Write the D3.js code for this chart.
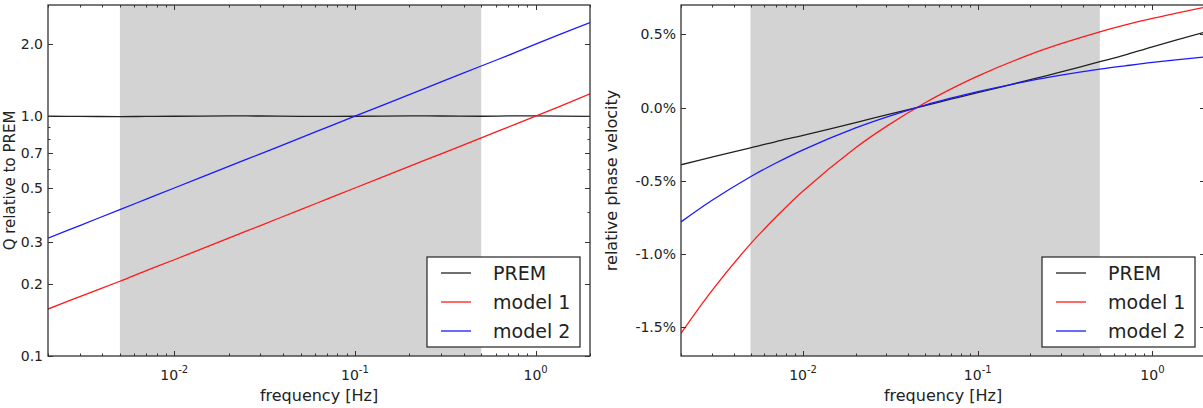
<!DOCTYPE html>
<html lang="en">
<head>
  <meta charset="UTF-8">
  <title>Q and phase velocity vs frequency</title>
  <style>
    html, body { margin: 0; padding: 0; background: #fff; }
    svg { display: block; font-family: "DejaVu Sans", sans-serif; }
  </style>
</head>
<body>
  <svg id="svg" width="1203" height="408"></svg>

  <script src="https://cdn.jsdelivr.net/npm/d3@7"></script>
  <script>
    const freq = [0.002, 0.003, 0.005, 0.007, 0.01, 0.02, 0.03, 0.05, 0.07, 0.1, 0.2, 0.3, 0.5, 0.7, 1, 2]

    // Q relative to PREM
    const qPrem   = [1.0, 0.998, 0.997, 0.998, 1.0, 1.003, 1.002, 0.999, 0.998, 1.0, 1.003, 1.002, 1.0, 1.003, 1.004, 0.998]
    const qModel1 = [0.157, 0.177, 0.205, 0.227, 0.252, 0.310, 0.350, 0.408, 0.451, 0.502, 0.618, 0.697, 0.812, 0.899, 1.0, 1.24]
    const qModel2 = [0.310, 0.350, 0.408, 0.451, 0.502, 0.618, 0.697, 0.812, 0.899, 1.0, 1.23, 1.39, 1.62, 1.79, 2.0, 2.46]

    // relative phase velocity (%)
    const vPrem   = [-0.39, -0.338, -0.275, -0.232, -0.19, -0.102, -0.05, 0.014, 0.057, 0.102, 0.19, 0.243, 0.313, 0.36, 0.415, 0.515]
    const vModel1 = [-1.54, -1.25, -0.93, -0.747, -0.569, -0.274, -0.128, 0.033, 0.126, 0.215, 0.363, 0.436, 0.517, 0.564, 0.608, 0.685]
    const vModel2 = [-0.78, -0.634, -0.472, -0.378, -0.288, -0.139, -0.065, 0.017, 0.064, 0.109, 0.184, 0.221, 0.262, 0.285, 0.308, 0.346]

    const seriesNames = ['PREM', 'model 1', 'model 2']
    const seriesColors = ['#222', '#ff1a1a', '#1a1aff']

    const bandRange = [0.005, 0.5]
    const freqTicks = [0.01, 0.1, 1]
    const freqExp = ['-2', '-1', '0']
    const qTicks = [0.1, 0.2, 0.3, 0.5, 0.7, 1.0, 2.0]
    const qMinorTicks = [0.4, 0.6, 0.8, 0.9]
    const vTicks = [-1.5, -1.0, -0.5, 0.0, 0.5]

    const svg = d3.select('#svg')
    const yTop = 5
    const yBottom = 356

    function drawPanel(cfg) {
      const x = d3.scaleLog().domain([0.002, 2]).range([cfg.x0, cfg.x1])
      const y = cfg.y
      const g = svg.append('g')

      const clipId = 'clip' + cfg.id
      svg.append('clipPath').attr('id', clipId)
        .append('rect')
        .attr('x', cfg.x0).attr('y', yTop)
        .attr('width', cfg.x1 - cfg.x0).attr('height', yBottom - yTop)

      // shaded frequency band
      g.append('rect')
        .attr('x', x(bandRange[0]))
        .attr('y', yTop)
        .attr('width', x(bandRange[1]) - x(bandRange[0]))
        .attr('height', yBottom - yTop)
        .attr('fill', '#d3d3d3')

      const line = d3.line()
        .x((d, i) => x(freq[i]))
        .y(d => y(d))
        .curve(d3.curveCatmullRom)

      g.append('g').attr('clip-path', `url(#${clipId})`)
        .selectAll('path')
        .data(cfg.series)
        .enter()
        .append('path')
        .attr('d', d => line(d))
        .attr('fill', 'none')
        .attr('stroke', (d, i) => seriesColors[i])
        .attr('stroke-width', 1.3)

      // frame
      g.append('rect')
        .attr('x', cfg.x0).attr('y', yTop)
        .attr('width', cfg.x1 - cfg.x0).attr('height', yBottom - yTop)
        .attr('fill', 'none')
        .attr('stroke', '#333')
        .attr('stroke-width', 1.3)

      const ticks = g.append('g').attr('stroke', '#333').attr('stroke-width', 1)

      // x ticks, inward on bottom and top
      const xMinor = x.ticks().filter(t => !freqTicks.some(m => Math.abs(m - t) < 1e-9))
      const xAll = freqTicks.map(t => [t, 5]).concat(xMinor.map(t => [t, 2.5]))
      xAll.forEach(([t, len]) => {
        const px = Math.round(x(t)) + 0.5
        ticks.append('line').attr('x1', px).attr('x2', px).attr('y1', yBottom).attr('y2', yBottom - len)
        ticks.append('line').attr('x1', px).attr('x2', px).attr('y1', yTop).attr('y2', yTop + len)
      })

      // y ticks, inward on left and right
      const yAll = cfg.yTicks.map(t => [t, 5]).concat(cfg.yMinor.map(t => [t, 2.5]))
      yAll.forEach(([t, len]) => {
        const py = Math.round(y(t)) + 0.5
        ticks.append('line').attr('x1', cfg.x0).attr('x2', cfg.x0 + len).attr('y1', py).attr('y2', py)
        ticks.append('line').attr('x1', cfg.x1).attr('x2', cfg.x1 - len).attr('y1', py).attr('y2', py)
      })

      // x tick labels 10^n
      const xl = g.selectAll('text.xtick')
        .data(freqTicks)
        .enter()
        .append('text')
        .attr('class', 'xtick')
        .attr('x', d => x(d))
        .attr('y', 380)
        .attr('text-anchor', 'middle')
        .attr('font-size', 14)
        .attr('fill', '#222')
      xl.append('tspan').text('10')
      xl.append('tspan').attr('dy', -7).attr('font-size', 10).text((d, i) => freqExp[i])

      // y tick labels
      g.selectAll('text.ytick')
        .data(cfg.yTicks)
        .enter()
        .append('text')
        .attr('class', 'ytick')
        .attr('x', cfg.x0 - 5)
        .attr('y', d => y(d))
        .attr('dy', '0.36em')
        .attr('text-anchor', 'end')
        .attr('font-size', 14)
        .attr('fill', '#222')
        .text(cfg.yFormat)

      // axis labels
      g.append('text')
        .attr('x', (cfg.x0 + cfg.x1) / 2)
        .attr('y', 401)
        .attr('text-anchor', 'middle')
        .attr('font-size', 16)
        .attr('fill', '#222')
        .text('frequency [Hz]')

      g.append('text')
        .attr('transform', `translate(${cfg.labelX}, ${(yTop + yBottom) / 2}) rotate(-90)`)
        .attr('text-anchor', 'middle')
        .attr('font-size', cfg.labelSize)
        .attr('fill', '#222')
        .text(cfg.yLabel)

      // legend
      const lx = cfg.x1 - 163
      const legend = g.append('g')
      legend.append('rect')
        .attr('x', lx).attr('y', 257)
        .attr('width', 153).attr('height', 90)
        .attr('fill', '#fff')
        .attr('stroke', '#333')
        .attr('stroke-width', 1.3)

      const rows = legend.selectAll('g.row')
        .data(seriesNames)
        .enter()
        .append('g')
        .attr('class', 'row')
        .attr('transform', (d, i) => `translate(${lx}, ${273 + i * 29})`)
      rows.append('line')
        .attr('x1', 14).attr('x2', 44)
        .attr('stroke', (d, i) => seriesColors[i])
        .attr('stroke-width', 1.3)
      rows.append('text')
        .attr('x', 66)
        .attr('dy', '0.36em')
        .attr('font-size', 19)
        .attr('fill', '#222')
        .text(d => d)
    }

    drawPanel({
      id: 'q',
      x0: 48, x1: 590,
      y: d3.scaleLog().domain([0.1, 2.91]).range([yBottom, yTop]),
      series: [qPrem, qModel1, qModel2],
      yTicks: qTicks,
      yMinor: qMinorTicks,
      yFormat: d => d3.format('.1f')(d),
      yLabel: 'Q relative to PREM',
      labelX: 15,
      labelSize: 15
    })

    drawPanel({
      id: 'v',
      x0: 681, x1: 1205,
      y: d3.scaleLinear().domain([-1.695, 0.7]).range([yBottom, yTop]),
      series: [vPrem, vModel1, vModel2],
      yTicks: vTicks,
      yMinor: [],
      yFormat: d => d3.format('.1f')(d).replace('−', '-') + '%',
      yLabel: 'relative phase velocity',
      labelX: 617,
      labelSize: 16
    })
  </script>
</body>
</html>
